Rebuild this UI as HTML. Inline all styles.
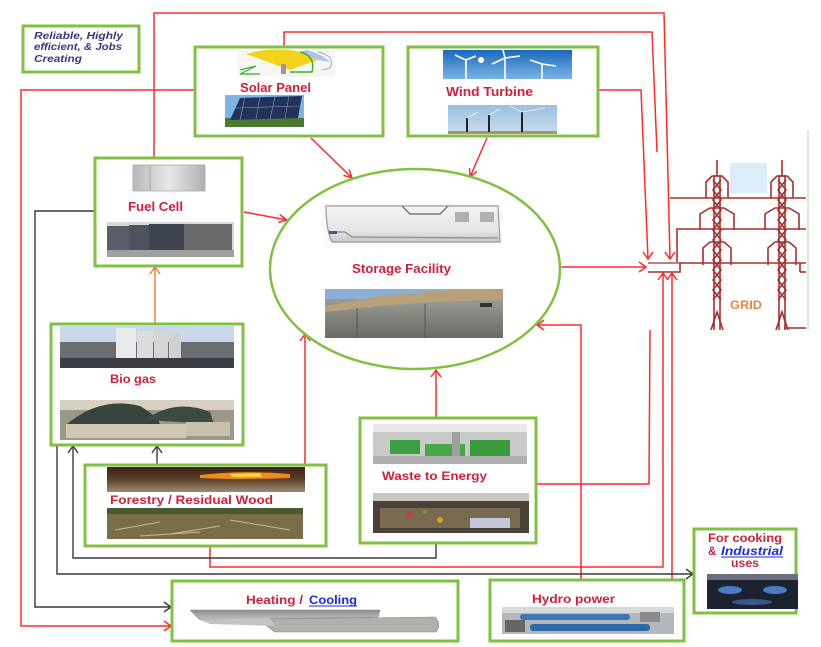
<!DOCTYPE html>
<html>
<head>
<meta charset="utf-8">
<style>
  html,body{margin:0;padding:0;background:#fff;}
  body{width:821px;height:647px;overflow:hidden;}
  svg{display:block;}
  .lbl{font-family:"Liberation Sans",sans-serif;font-weight:bold;fill:#d0203a;}
</style>
</head>
<body>
<svg width="821" height="647" viewBox="0 0 821 647" xmlns="http://www.w3.org/2000/svg">
  <defs>
    <linearGradient id="sky" x1="0" y1="0" x2="0" y2="1">
      <stop offset="0" stop-color="#1c68bd"/><stop offset="1" stop-color="#7ab4e4"/>
    </linearGradient>
    <linearGradient id="sky2" x1="0" y1="0" x2="0" y2="1">
      <stop offset="0" stop-color="#9cc0e0"/><stop offset="1" stop-color="#c8dcec"/>
    </linearGradient>
    <linearGradient id="gray1" x1="0" y1="0" x2="1" y2="0">
      <stop offset="0" stop-color="#b8b8b8"/><stop offset="0.5" stop-color="#e8e8e8"/><stop offset="1" stop-color="#b0b0b0"/>
    </linearGradient>
    <linearGradient id="tank" x1="0" y1="0" x2="0" y2="1">
      <stop offset="0" stop-color="#a8a8a2"/><stop offset="1" stop-color="#6a6a66"/>
    </linearGradient>
    <linearGradient id="fire" x1="0" y1="0" x2="0" y2="1">
      <stop offset="0" stop-color="#3a2418"/><stop offset="0.45" stop-color="#5a3a22"/><stop offset="1" stop-color="#9a8a78"/>
    </linearGradient>
    <linearGradient id="heater" x1="0" y1="0" x2="0" y2="1">
      <stop offset="0" stop-color="#8e8e8a"/><stop offset="1" stop-color="#c0c0bc"/>
    </linearGradient>
    <linearGradient id="appl" x1="0" y1="0" x2="0" y2="1">
      <stop offset="0" stop-color="#f4f4f6"/><stop offset="0.7" stop-color="#e4e4e8"/><stop offset="1" stop-color="#c8c8cc"/>
    </linearGradient>
  </defs>

  <!-- ================= CONNECTORS ================= -->
  <g fill="none" stroke="#ff2a2a" stroke-width="1.5">
    <polyline points="154,157 154,13 664,13 670,259"/>
    <polyline points="284,46 284,32 652,32 657,152"/>
    <polyline points="194,90 21,90 21,626 170,626"/>
    <polyline points="599,90 641,90 648,259"/>
    <line x1="311" y1="138" x2="352" y2="178"/>
    <line x1="487" y1="138" x2="470" y2="177"/>
    <line x1="244" y1="212" x2="287" y2="220"/>
    <line x1="560" y1="267" x2="646" y2="267"/>
    <line x1="305" y1="464" x2="305" y2="334"/>
    <line x1="436" y1="417" x2="436" y2="370"/>
    <polyline points="581,580 581,325 537,325"/>
    <polyline points="537,484 649,484 650,330"/>
    <polyline points="210,547 210,567 663,567 663,273"/>
    <line x1="672" y1="580" x2="672" y2="273"/>
    <polyline points="665,252 670,259 675,252"/>
    <polyline points="643,252 648,259 653,252"/>
    <polyline points="639,262 646,267 639,272"/>
    <polyline points="658,280 663,273 668,280"/>
    <polyline points="667,280 672,273 677,280"/>
    <polyline points="164,621 171,626 164,631"/>
    <polyline points="343.5,175.3 352,178 349.1,169.5"/>
    <polyline points="476.9,171.3 470,177 469.5,168.1"/>
    <polyline points="278.4,222.4 287,220 279.8,214.6"/>
    <polyline points="300,341 305,334 310,341"/>
    <polyline points="431,377 436,370 441,377"/>
    <polyline points="544,320 537,325 544,330"/>
  </g>

  <g fill="none" stroke="#3a3a3a" stroke-width="1.4">
    <polyline points="94,211 35,211 35,607 170,607"/>
    <line x1="157" y1="464" x2="157" y2="446"/>
    <polyline points="436,544 436,558 73,558 73,446"/>
    <polyline points="57,446 57,574 692,574"/>
    <polyline points="164,602 171,607 164,612"/>
    <polyline points="152,453 157,446 162,453"/>
    <polyline points="68,453 73,446 78,453"/>
    <polyline points="686,569 693,574 686,579"/>
  </g>

  <g fill="none" stroke="#f07a30" stroke-width="1.4">
    <line x1="155" y1="323" x2="155" y2="267"/>
    <polyline points="150,274 155,267 160,274"/>
  </g>

  <!-- ================= GRID ================= -->
  <rect x="730" y="163" width="37" height="30" fill="#dcecf8"/>
  <line x1="808" y1="130" x2="808" y2="330" stroke="#dcecd0" stroke-width="2"/>
  <g fill="none" stroke="#a5302e" stroke-width="1.6">
    <line x1="670" y1="198" x2="806" y2="198"/>
    <polyline points="677,262 677,229 806,229"/>
    <polyline points="648,272 680,272 680,263 806,263"/>
    <line x1="648" y1="263" x2="680" y2="263" stroke="#b05050"/>
    <line x1="800" y1="263" x2="800" y2="272"/>
    <line x1="800" y1="272" x2="806" y2="272"/>
    <g>
      <line x1="717" y1="160" x2="717" y2="176"/>
      <polyline points="714,330 714,176 720,176 720,330" />
      <polyline points="711,330 717,312 723,330"/>
      <polyline points="713,300 721,290 713,280 721,270 713,260 721,250 713,240 721,230 713,220 721,210 713,200 721,190 713,180"/>
      <polyline points="721,300 713,290 721,280 713,270 721,260 713,250 721,240 713,230 721,220 713,210 721,200 713,190 721,180"/>
      <polyline points="706,198 706,182 712,176 722,176 728,182 728,198"/>
      <polyline points="700,230 700,214 710,208 724,208 734,214 734,230"/>
      <polyline points="703,265 703,248 710,242 724,242 731,248 731,265"/>
    </g>
    <g>
      <line x1="782" y1="160" x2="782" y2="176"/>
      <polyline points="779,330 779,176 785,176 785,330" />
      <polyline points="776,330 782,312 788,330"/>
      <polyline points="778,300 786,290 778,280 786,270 778,260 786,250 778,240 786,230 778,220 786,210 778,200 786,190 778,180"/>
      <polyline points="786,300 778,290 786,280 778,270 786,260 778,250 786,240 778,230 786,220 778,210 786,200 778,190 786,180"/>
      <polyline points="771,198 771,182 777,176 787,176 793,182 793,198"/>
      <polyline points="765,230 765,214 775,208 789,208 799,214 799,230"/>
      <polyline points="768,265 768,248 775,242 789,242 796,248 796,265"/>
    </g>
    <line x1="784" y1="328" x2="806" y2="328"/>
  </g>
  <text x="730" y="309" font-family="Liberation Sans, sans-serif" font-weight="bold" font-size="11.5" fill="#e8863a" textLength="32" lengthAdjust="spacingAndGlyphs">GRID</text>

  <!-- ================= BOXES ================= -->
  <g fill="#fff" stroke="#7fc241" stroke-width="3">
    <rect x="23" y="26" width="116" height="46"/>
    <rect x="195" y="47" width="188" height="89"/>
    <rect x="408" y="47" width="190" height="89"/>
    <rect x="95" y="158" width="147" height="108"/>
    <rect x="51" y="324" width="192" height="121"/>
    <rect x="85" y="465" width="241" height="81"/>
    <rect x="360" y="418" width="176" height="125"/>
    <rect x="172" y="581" width="286" height="60"/>
    <rect x="490" y="580" width="194" height="61"/>
    <rect x="694" y="529" width="102" height="84"/>
  </g>
  <ellipse cx="415" cy="269" rx="145" ry="100" fill="#fff" stroke="#7fc241" stroke-width="2.5"/>

  <g font-family="Liberation Sans, sans-serif" font-weight="bold" font-style="italic" font-size="10.5" fill="#3b3785">
    <text x="34" y="39" textLength="89" lengthAdjust="spacingAndGlyphs">Reliable, Highly</text>
    <text x="34" y="50" textLength="88" lengthAdjust="spacingAndGlyphs">efficient, &amp; Jobs</text>
    <text x="34" y="62" textLength="48" lengthAdjust="spacingAndGlyphs">Creating</text>
  </g>

  <!-- ============ SOLAR ============ -->
  <g>
    <rect x="238" y="50" width="97" height="27" fill="#f6f6f6"/>
    <path d="M246,54 Q275,46 300,52 L318,60 Q300,66 290,70 Z" fill="#f2d21a"/>
    <path d="M300,52 L318,60 L330,62 Q322,54 306,50 Z" fill="#a8c4ee"/>
    <path d="M300,52 Q316,56 312,72 L290,72" fill="none" stroke="#3cb030" stroke-width="1.5"/>
    <path d="M318,52 Q336,56 330,68 L322,70" fill="none" stroke="#aaa" stroke-width="1"/>
    <rect x="281" y="64" width="5" height="10" fill="#999"/>
    <path d="M240,70 L256,66 L240,74 L260,74" fill="none" stroke="#3cb030" stroke-width="1.2"/>
    <rect x="225" y="95" width="79" height="32" fill="#7eb4e6"/>
    <rect x="225" y="118" width="79" height="9" fill="#4a7a30"/>
    <path d="M230,120 L240,98 L302,96 L298,118 Z" fill="#22325a"/>
    <g stroke="#8a9ac0" stroke-width="0.6">
      <line x1="245" y1="97" x2="240" y2="120"/>
      <line x1="260" y1="97" x2="256" y2="119"/>
      <line x1="275" y1="97" x2="270" y2="119"/>
      <line x1="289" y1="96" x2="285" y2="118"/>
      <line x1="236" y1="108" x2="300" y2="106"/>
    </g>
  </g>
  <text class="lbl" x="240" y="92" font-size="12.5" textLength="71" lengthAdjust="spacingAndGlyphs">Solar Panel</text>

  <!-- ============ WIND ============ -->
  <g>
    <rect x="443" y="50" width="129" height="29" fill="url(#sky)"/>
    <g stroke="#fff" stroke-width="1.6" fill="none">
      <line x1="466" y1="79" x2="466" y2="60"/><line x1="466" y1="60" x2="455" y2="55"/><line x1="466" y1="60" x2="476" y2="56"/><line x1="466" y1="60" x2="466" y2="68"/>
      <line x1="505" y1="79" x2="505" y2="58"/><line x1="505" y1="58" x2="492" y2="64"/><line x1="505" y1="58" x2="520" y2="56"/><line x1="505" y1="58" x2="503" y2="50"/>
      <line x1="542" y1="79" x2="542" y2="64"/><line x1="542" y1="64" x2="530" y2="60"/><line x1="542" y1="64" x2="556" y2="66"/>
    </g>
    <circle cx="481" cy="60" r="3" fill="#fff"/>
    <rect x="448" y="105" width="109" height="29" fill="url(#sky2)"/>
    <rect x="448" y="131" width="109" height="3" fill="#a89868"/>
    <g stroke="#222" stroke-width="2">
      <line x1="467" y1="132" x2="467" y2="118"/>
      <line x1="489" y1="132" x2="489" y2="115"/>
      <line x1="522" y1="132" x2="522" y2="112"/>
    </g>
    <g stroke="#f4f4f4" stroke-width="0.8">
      <line x1="467" y1="118" x2="478" y2="112"/><line x1="489" y1="115" x2="500" y2="109"/><line x1="522" y1="112" x2="545" y2="108"/><line x1="522" y1="112" x2="510" y2="106"/>
    </g>
  </g>
  <text class="lbl" x="446" y="96" font-size="12.5" textLength="87" lengthAdjust="spacingAndGlyphs">Wind Turbine</text>

  <!-- ============ FUEL CELL ============ -->
  <g>
    <rect x="133" y="165" width="72" height="26" fill="url(#gray1)" stroke="#aaa" stroke-width="0.8"/>
    <line x1="150" y1="166" x2="150" y2="190" stroke="#999" stroke-width="0.8"/>
    <rect x="107" y="222" width="127" height="35" fill="#d8d8d8"/>
    <rect x="107" y="226" width="22" height="24" fill="#5a5e66"/>
    <rect x="129" y="225" width="20" height="25" fill="#4e535c"/>
    <rect x="149" y="224" width="35" height="26" fill="#3e4550"/>
    <rect x="184" y="224" width="48" height="26" fill="#6a6a6a"/>
    <rect x="107" y="250" width="127" height="7" fill="#a0a0a0"/>
  </g>
  <text class="lbl" x="128" y="211" font-size="12.5" textLength="55" lengthAdjust="spacingAndGlyphs">Fuel Cell</text>

  <!-- ============ STORAGE ============ -->
  <g>
    <rect x="323" y="202" width="179" height="45" fill="#fafafa"/>
    <path d="M326,206 L498,206 L500,242 L332,242 Q326,230 326,206 Z" fill="url(#appl)" stroke="#9a9a9a" stroke-width="1.2"/>
    <path d="M402,206 L410,214 L440,214 L448,206" fill="none" stroke="#7a7a7a" stroke-width="1.5"/>
    <path d="M328,232 L345,232 L352,237 L498,238" fill="none" stroke="#8a8a8a" stroke-width="1.2"/>
    <rect x="455" y="212" width="14" height="10" fill="#b0b0b0"/>
    <rect x="480" y="212" width="14" height="10" fill="#b0b0b0"/>
    <rect x="329" y="231" width="8" height="3" fill="#3a5aa0"/>
    <rect x="325" y="289" width="178" height="49" fill="url(#tank)"/>
    <rect x="325" y="289" width="178" height="10" fill="#8ab0d8"/>
    <path d="M325,306 L380,296 L450,290 L503,289 L503,300 L450,301 L380,306 L325,312 Z" fill="#b8a078"/>
    <line x1="357" y1="308" x2="357" y2="338" stroke="#555" stroke-width="1"/>
    <line x1="425" y1="304" x2="425" y2="338" stroke="#555" stroke-width="1"/>
    <rect x="480" y="303" width="12" height="4" fill="#333"/>
  </g>
  <text class="lbl" x="352" y="273" font-size="12.5" textLength="99" lengthAdjust="spacingAndGlyphs">Storage Facility</text>

  <!-- ============ BIO GAS ============ -->
  <g>
    <rect x="60" y="325" width="174" height="43" fill="#c8d8e8"/>
    <rect x="60" y="342" width="174" height="26" fill="#6a6e70"/>
    <rect x="116" y="328" width="20" height="34" fill="#e8eaec"/>
    <rect x="137" y="331" width="16" height="31" fill="#dadcde"/>
    <rect x="154" y="332" width="14" height="30" fill="#d4d6d8"/>
    <rect x="169" y="334" width="12" height="28" fill="#cfd1d3"/>
    <rect x="60" y="358" width="174" height="10" fill="#3a3e44"/>
    <rect x="60" y="400" width="174" height="40" fill="#9a9888"/>
    <rect x="60" y="400" width="174" height="10" fill="#d8d0c0"/>
    <path d="M66,425 Q100,396 140,406 Q160,418 160,425 Z" fill="#37443e"/>
    <path d="M145,420 Q175,398 210,412 L214,424 Z" fill="#3c4a44"/>
    <rect x="66" y="424" width="120" height="14" fill="#d0c8b2"/>
    <rect x="186" y="422" width="44" height="14" fill="#c8c0aa"/>
  </g>
  <text class="lbl" x="110" y="383" font-size="12" textLength="46" lengthAdjust="spacingAndGlyphs">Bio gas</text>

  <!-- ============ FORESTRY ============ -->
  <g>
    <rect x="107" y="467" width="198" height="25" fill="url(#fire)"/>
    <path d="M200,475 Q240,470 290,474 L290,478 Q240,480 200,478 Z" fill="#f08a1a"/>
    <path d="M230,474 L260,473 L262,477 L232,477 Z" fill="#ffd24a"/>
    <rect x="107" y="508" width="196" height="31" fill="#7a6e48"/>
    <rect x="107" y="508" width="196" height="6" fill="#4a5a30"/>
    <g stroke="#c8b890" stroke-width="1">
      <line x1="115" y1="530" x2="160" y2="522"/>
      <line x1="170" y1="534" x2="220" y2="526"/>
      <line x1="230" y1="520" x2="290" y2="530"/>
      <line x1="140" y1="536" x2="200" y2="532"/>
    </g>
  </g>
  <text class="lbl" x="110" y="504" font-size="12" textLength="163" lengthAdjust="spacingAndGlyphs">Forestry / Residual Wood</text>

  <!-- ============ WASTE ============ -->
  <g>
    <rect x="373" y="424" width="154" height="40" fill="#c8cac8"/>
    <rect x="373" y="424" width="154" height="8" fill="#e8e8e8"/>
    <rect x="390" y="440" width="30" height="14" fill="#3aa040"/>
    <rect x="425" y="444" width="40" height="12" fill="#48a848"/>
    <rect x="470" y="440" width="40" height="16" fill="#3a9a3a"/>
    <rect x="452" y="432" width="8" height="30" fill="#a0a0a0"/>
    <rect x="373" y="456" width="154" height="8" fill="#b0b0b0"/>
    <rect x="373" y="493" width="156" height="40" fill="#4a4238"/>
    <rect x="373" y="493" width="156" height="8" fill="#c8c8c0"/>
    <rect x="380" y="508" width="140" height="20" fill="#7a6a50"/>
    <rect x="470" y="518" width="40" height="10" fill="#c0c8d8"/>
    <circle cx="410" cy="515" r="3" fill="#c04040"/>
    <circle cx="440" cy="520" r="3" fill="#d0a030"/>
    <circle cx="425" cy="512" r="2" fill="#6a9a40"/>
  </g>
  <text class="lbl" x="382" y="480" font-size="12" textLength="105" lengthAdjust="spacingAndGlyphs">Waste to Energy</text>

  <!-- ============ HEATING ============ -->
  <g>
    <path d="M190,610 L380,610 L378,617 L200,620 Z" fill="url(#heater)" stroke="#8a8a88" stroke-width="0.6"/>
    <path d="M262,619 L435,617 Q442,625 436,632 L275,632 Q265,626 262,619 Z" fill="#b0b0ac" stroke="#8a8a88" stroke-width="0.6"/>
    <path d="M200,620 L270,618 L275,626 L210,624 Z" fill="#c4c4c0"/>
  </g>
  <g font-family="Liberation Sans, sans-serif" font-weight="bold" font-size="12">
    <text x="246" y="604" fill="#d0203a" textLength="57" lengthAdjust="spacingAndGlyphs">Heating /</text>
    <text x="309" y="604" fill="#1a2ad8" textLength="48" lengthAdjust="spacingAndGlyphs">Cooling</text>
  </g>
  <line x1="309" y1="606" x2="357" y2="606" stroke="#1a2ad8" stroke-width="1"/>

  <!-- ============ HYDRO ============ -->
  <g>
    <rect x="502" y="607" width="172" height="27" fill="#b4b8bc"/>
    <rect x="502" y="607" width="172" height="6" fill="#d8d8d8"/>
    <rect x="520" y="614" width="110" height="6" rx="3" fill="#3a78b8"/>
    <rect x="530" y="624" width="120" height="7" rx="3" fill="#2f6aa8"/>
    <rect x="505" y="620" width="20" height="12" fill="#666"/>
    <rect x="640" y="612" width="20" height="10" fill="#8a8a8a"/>
  </g>
  <text class="lbl" x="532" y="603" font-size="12" textLength="83" lengthAdjust="spacingAndGlyphs">Hydro power</text>

  <!-- ============ COOKING ============ -->
  <g>
    <rect x="707" y="574" width="91" height="35" fill="#1c2230"/>
    <rect x="707" y="574" width="91" height="6" fill="#6a7080"/>
    <ellipse cx="730" cy="590" rx="12" ry="4" fill="#4a7ac8"/>
    <ellipse cx="775" cy="590" rx="12" ry="4" fill="#4a7ac8"/>
    <ellipse cx="752" cy="602" rx="20" ry="3" fill="#3a5890"/>
  </g>
  <g font-family="Liberation Sans, sans-serif" font-weight="bold" font-size="11.5">
    <text x="708" y="542" fill="#d0203a" textLength="74" lengthAdjust="spacingAndGlyphs">For cooking</text>
    <text x="708" y="555" fill="#d0203a">&amp;</text>
    <text x="721" y="555" fill="#1a2ad8" font-style="italic" textLength="62" lengthAdjust="spacingAndGlyphs">Industrial</text>
    <text x="731" y="567" fill="#d0203a" textLength="28" lengthAdjust="spacingAndGlyphs">uses</text>
  </g>
  <line x1="721" y1="557" x2="783" y2="557" stroke="#1a2ad8" stroke-width="1"/>
</svg>
</body>
</html>
